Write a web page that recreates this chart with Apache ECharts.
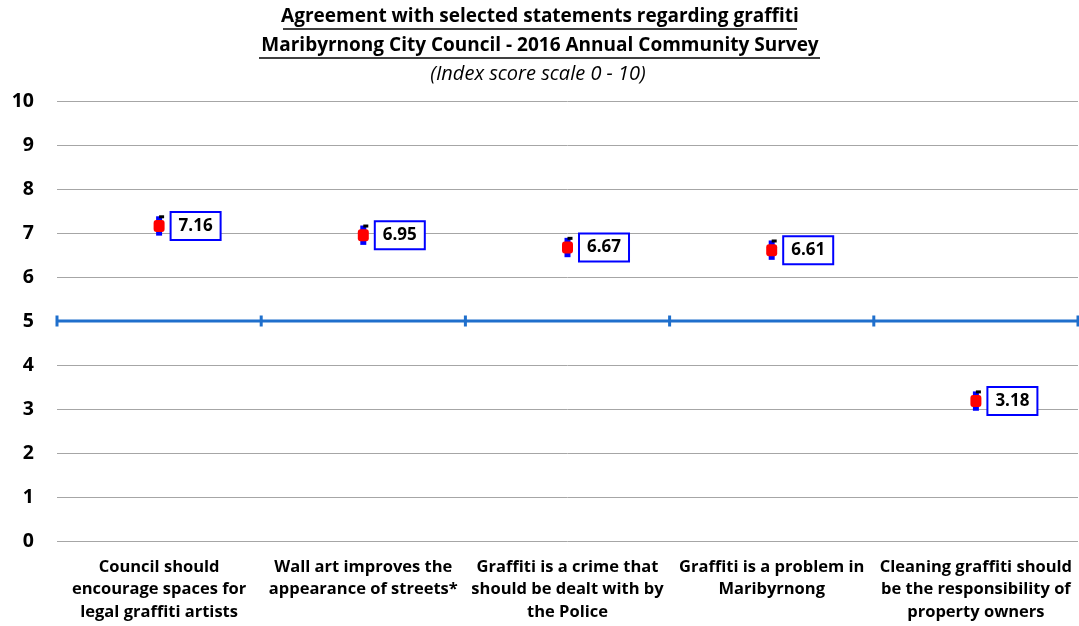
<!DOCTYPE html>
<html>
<head>
    <meta charset="UTF-8">
    <title>Graffiti statements</title>
    <script src="https://cdn.jsdelivr.net/npm/echarts@6/dist/echarts.min.js"></script>
    <style>
        *{margin:0;padding:0;}
        body,html{width:100%;height:100%;background:#fff;}
        #main{width:1079px;height:626px;}
    </style>
</head>
<body>
<div id="main"></div>
<script>
    // 数据
    var categories = [
        'Council should\nencourage spaces for\nlegal graffiti artists',
        'Wall art improves the\nappearance of streets*',
        'Graffiti is a crime that\nshould be dealt with by\nthe Police',
        'Graffiti is a problem in\nMaribyrnong',
        'Cleaning graffiti should\nbe the responsibility of\nproperty owners'
    ];
    var scores = [7.16, 6.95, 6.67, 6.61, 3.18];
    var errors = [0.22, 0.22, 0.22, 0.22, 0.22];
    var refValue = 5;
    var refPoints = [0, 1, 2, 3, 4, 5];
    var yTicks = [0, 10, 1];

    var FONT = '"Open Sans", sans-serif';
    var BLUE = '#0000FF';

    var myChart = echarts.init(document.getElementById('main'));

    var option = {
        animation: false,
        textStyle: {fontFamily: FONT},
        grid: {left: 57, right: 1, top: 101, bottom: 85},
        graphic: [
            {type: 'text', style: {x: 540, y: 17, text: 'Agreement with selected statements regarding graffiti', font: 'bold 19px ' + FONT, fill: '#000', align: 'center', verticalAlign: 'middle'}},
            {type: 'line', shape: {x1: 283, y1: 29, x2: 797, y2: 29}, style: {stroke: '#000', lineWidth: 1.5}},
            {type: 'text', style: {x: 540, y: 46, text: 'Maribyrnong City Council - 2016 Annual Community Survey', font: 'bold 19px ' + FONT, fill: '#000', align: 'center', verticalAlign: 'middle'}},
            {type: 'line', shape: {x1: 259, y1: 58, x2: 820, y2: 58}, style: {stroke: '#000', lineWidth: 1.5}},
            {type: 'text', style: {x: 538, y: 74, text: '(Index score scale 0 - 10)', font: 'italic 20px ' + FONT, fill: '#000', align: 'center', verticalAlign: 'middle'}}
        ],
        xAxis: [{
            type: 'category',
            data: categories,
            axisLine: {show: false},
            axisTick: {show: false},
            axisLabel: {
                interval: 0,
                margin: 15,
                fontSize: 16.5,
                fontWeight: 'bold',
                color: '#000',
                lineHeight: 22.5,
                align: 'center'
            }
        }, {
            type: 'value',
            min: 0,
            max: 5,
            show: false
        }],
        yAxis: {
            type: 'value',
            min: yTicks[0],
            max: yTicks[1],
            interval: yTicks[2],
            axisLine: {show: false},
            axisTick: {show: false},
            splitLine: {lineStyle: {color: '#A6A6A6', width: 1}},
            axisLabel: {fontSize: 19.5, fontWeight: 'bold', color: '#000', margin: 23}
        },
        series: [{
            // 参考线 5
            type: 'line',
            xAxisIndex: 1,
            data: refPoints.map(function (x) { return [x, refValue]; }),
            symbol: 'rect',
            symbolSize: [3, 11],
            showSymbol: true,
            lineStyle: {color: '#1F6FCC', width: 3},
            itemStyle: {color: '#1F6FCC'},
            z: 2
        }, {
            // 误差线
            type: 'custom',
            data: scores.map(function (v, i) { return [i, v, errors[i]]; }),
            renderItem: function (params, api) {
                var top = api.coord([api.value(0), api.value(1) + api.value(2)]);
                var bottom = api.coord([api.value(0), api.value(1) - api.value(2)]);
                return {
                    type: 'group',
                    children: [{
                        type: 'rect',
                        shape: {x: top[0] - 3, y: top[1], width: 6, height: bottom[1] - top[1]},
                        style: {fill: '#0000FF'}
                    }, {
                        type: 'rect',
                        shape: {x: top[0], y: top[1] - 1, width: 5, height: 3},
                        style: {fill: '#000'}
                    }]
                };
            },
            z: 3
        }, {
            type: 'scatter',
            data: scores,
            symbol: 'roundRect',
            symbolSize: [11, 12],
            itemStyle: {color: '#FF0000', opacity: 1},
            label: {
                show: true,
                position: 'right',
                distance: 7,
                formatter: function (p) { return p.value.toFixed(2); },
                fontSize: 17,
                fontWeight: 'bold',
                color: '#000',
                backgroundColor: '#fff',
                borderColor: BLUE,
                borderWidth: 2,
                padding: [5, 7, 4, 7]
            },
            z: 4
        }]
    };

    myChart.setOption(option);
</script>
</body>
</html>
